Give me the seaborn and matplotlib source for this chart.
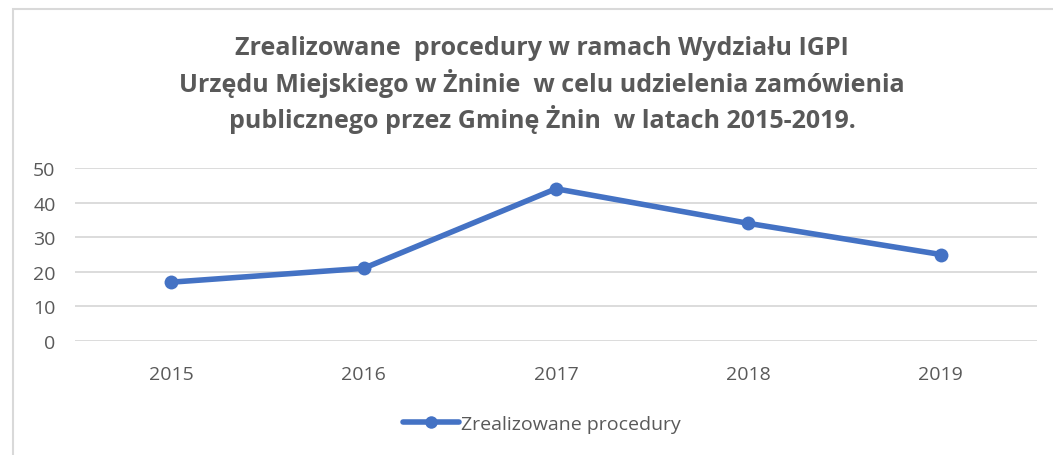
import pandas as pd
import seaborn as sns
import matplotlib.pyplot as plt
from matplotlib.patches import Rectangle

years = ['2015', '2016', '2017', '2018', '2019']
procedures = [17, 21, 44, 34, 25]
series_name = 'Zrealizowane procedury'
title = ('Zrealizowane  procedury w ramach Wydziału IGPI\n'
         'Urzędu Miejskiego w Żninie  w celu udzielenia zamówienia\n'
         'publicznego przez Gminę Żnin  w latach 2015-2019.')

df = pd.DataFrame({'rok': years, 'liczba': procedures, 'seria': series_name})

sns.set_theme(style='white')
plt.rcParams['font.family'] = ['Open Sans', 'DejaVu Sans']

text_col = '#595959'
blue = '#4472C4'

fig = plt.figure(figsize=(10.53, 4.56), dpi=100)
ax = fig.add_axes([75 / 1053, 1 - 342 / 456, 962 / 1053, 173 / 456])

sns.lineplot(data=df, x='rok', y='liczba', hue='seria', palette=[blue],
             marker='o', markersize=10, linewidth=4, markeredgewidth=0,
             sort=False, ax=ax, legend=False)

ax.set_xlim(-0.5, len(years) - 0.5)
ax.set_ylim(0, 50)
ax.set_yticks(range(0, 51, 10))
ax.yaxis.grid(True, color='#D9D9D9', linewidth=1.3)
ax.set_axisbelow(True)
for s in ax.spines.values():
    s.set_visible(False)
ax.tick_params(axis='both', colors=text_col, labelsize=14, length=0)
ax.tick_params(axis='x', pad=17)
ax.tick_params(axis='y', pad=14)
ax.set_xlabel('')
ax.set_ylabel('')

fig.text(542 / 1053, 1 - 85 / 456, title, ha='center', va='center',
         fontsize=18, fontweight='bold', color=text_col, linespacing=1.32)

leg = fig.legend(handles=[plt.Line2D([], [], color=blue, linewidth=4, marker='o',
                                     markersize=9, markeredgewidth=0)],
                 labels=[series_name], loc='center', frameon=False,
                 bbox_to_anchor=(542 / 1053, 1 - 425 / 456), fontsize=14,
                 handlelength=2.9, handletextpad=0.1)
for t in leg.get_texts():
    t.set_color(text_col)

# outer chart border (only left and top visible)
fig.patches.append(Rectangle((13 / 1053, -0.2), 1.2, 1.2 - 9.5 / 456,
                             transform=fig.transFigure, fill=False,
                             edgecolor='#D9D9D9', linewidth=1.5))

fig.savefig('out.png', dpi=100)
